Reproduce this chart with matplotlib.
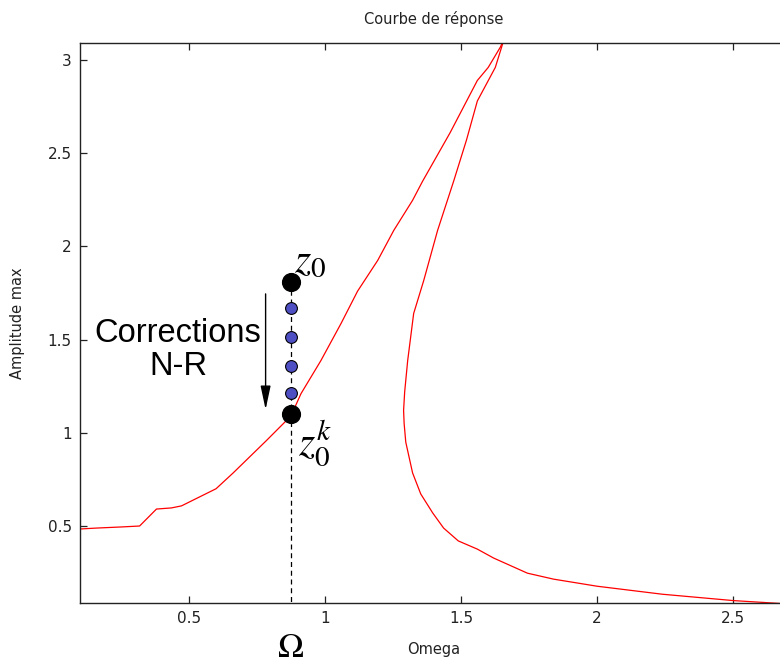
import matplotlib
matplotlib.use("Agg")
import matplotlib.pyplot as plt

plt.rcParams['mathtext.fontset'] = 'stix'

# response curve, branch going up to the peak
omega_up = [0.10, 0.161, 0.253, 0.319, 0.381, 0.436, 0.473, 0.60, 0.663, 0.784, 0.875,
            0.912, 0.985, 1.059, 1.12, 1.194, 1.253, 1.322, 1.359, 1.46, 1.56, 1.60, 1.645, 1.66]
amp_up = [0.484, 0.489, 0.495, 0.50, 0.591, 0.597, 0.608, 0.70, 0.785, 0.957, 1.09,
          1.21, 1.387, 1.586, 1.76, 1.925, 2.086, 2.247, 2.35, 2.61, 2.89, 2.96, 3.07, 3.12]

# branch coming back down from the peak
omega_down = [1.66, 1.626, 1.56, 1.52, 1.473, 1.414, 1.363, 1.326, 1.304, 1.293, 1.289,
              1.291, 1.297, 1.322, 1.352, 1.396, 1.436, 1.49, 1.56, 1.62, 1.744, 1.84,
              2.0, 2.24, 2.5, 2.7]
amp_down = [3.12, 2.96, 2.78, 2.57, 2.35, 2.086, 1.817, 1.64, 1.387, 1.22, 1.12,
            1.05, 0.95, 0.785, 0.672, 0.57, 0.489, 0.42, 0.376, 0.328, 0.247, 0.215,
            0.177, 0.134, 0.10, 0.082]

# Newton-Raphson iterations
omega0 = 0.875
z_start = 1.81
z_iter = [1.67, 1.516, 1.36, 1.215]
z_end = 1.10

fig = plt.figure(figsize=(7.8, 6.64), dpi=100)
ax = fig.add_axes([80/780, 61/664, (787.6-80)/780, 560/664])

ax.plot(omega_up, amp_up, color='red', linewidth=0.9)
ax.plot(omega_down, amp_down, color='red', linewidth=0.9)

ax.plot([omega0, omega0], [0.0, z_start], color='black', linestyle=(0, (4, 3)), linewidth=0.9)
ax.plot([omega0]*len(z_iter), z_iter, 'o', color='#4f4fc4', markeredgecolor='black',
        markeredgewidth=0.8, markersize=8.5, zorder=5)
ax.plot([omega0, omega0], [z_start, z_end], 'o', color='black', markersize=12.8, zorder=6)

ax.annotate('', xy=(0.782, 1.11), xytext=(0.782, 1.76),
            arrowprops=dict(arrowstyle='-|>,head_length=0.8,head_width=0.17',
                            color='black', lw=1.0, mutation_scale=18))

ax.text(0.46, 1.444, 'Corrections\nN-R', fontsize=23.5, family='Liberation Sans',
        ha='center', va='center', linespacing=1.12)

ax.text(0.945, 1.93, r'$z_0$', fontsize=30, ha='center', va='center')
ax.text(0.965, 0.95, r'$z_0^k$', fontsize=30, ha='center', va='center')
ax.annotate(r'$\Omega$', xy=(omega0, 0), xycoords=('data', 'axes fraction'),
            xytext=(0, -33), textcoords='offset points', ha='center', va='center',
            fontsize=25, fontweight='bold', family='Liberation Serif')

ax.set_xlim(0.1, 2.7)
ax.set_ylim(0.087, 3.091)
ax.set_xticks([0.5, 1, 1.5, 2, 2.5])
ax.set_xticklabels(['0.5', '1', '1.5', '2', '2.5'])
ax.set_yticks([0.5, 1, 1.5, 2, 2.5, 3])
ax.set_yticklabels(['0.5', '1', '1.5', '2', '2.5', '3'])
ax.tick_params(direction='in', length=5, width=0.9, labelsize=11, top=True, right=True,
               colors='#222222', pad=6)
for sp in ax.spines.values():
    sp.set_linewidth(1.0)
    sp.set_color('#222222')

ax.set_title('Courbe de réponse', fontsize=10.5, pad=14, color='#222222')
ax.set_xlabel('Omega', fontsize=10.5, labelpad=11, color='#222222')
ax.set_ylabel('Amplitude max', fontsize=10.5, labelpad=16, color='#222222')

fig.savefig('out.png', dpi=100)
